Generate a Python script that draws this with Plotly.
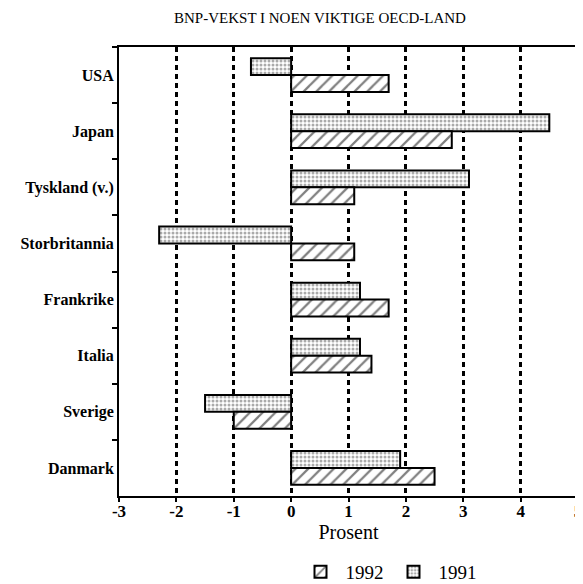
import plotly.graph_objects as go

countries = ["USA", "Japan", "Tyskland (v.)", "Storbritannia", "Frankrike", "Italia", "Sverige", "Danmark"]
vekst_1991 = [-0.7, 4.5, 3.1, -2.3, 1.2, 1.2, -1.5, 1.9]
vekst_1992 = [1.7, 2.8, 1.1, 1.1, 1.7, 1.4, -1.0, 2.5]
x_ticks = [-3, -2, -1, 0, 1, 2, 3, 4, 5]

serif = "Liberation Serif"

fig = go.Figure()
fig.add_trace(go.Bar(
    y=countries, x=vekst_1991, orientation="h", name="1991",
    marker=dict(color="white", line=dict(color="black", width=2),
                pattern=dict(shape=".", fgcolor="#555", bgcolor="white", size=4, solidity=0.45)),
    legendrank=2,
))
fig.add_trace(go.Bar(
    y=countries, x=vekst_1992, orientation="h", name="1992",
    marker=dict(color="white", line=dict(color="black", width=2),
                pattern=dict(shape="/", fgcolor="black", bgcolor="white", size=9, solidity=0.25)),
    legendrank=1,
))

fig.update_layout(
    width=575, height=576,
    margin=dict(l=111, r=5, t=39, b=88),
    paper_bgcolor="white", plot_bgcolor="white",
    barmode="group", bargap=0.4, bargroupgap=0,
    font=dict(family=serif, color="black"),
    title=dict(text="BNP-VEKST I NOEN VIKTIGE OECD-LAND", xref="container", yref="container",
               x=312/575, y=1-10/576, xanchor="center", yanchor="middle",
               font=dict(size=15, family=serif)),
    legend=dict(orientation="h", xref="container", yref="container", x=0.5, y=0.021,
                xanchor="left", yanchor="middle",
                itemwidth=40, font=dict(size=19, family=serif), bgcolor="rgba(0,0,0,0)"),
    showlegend=True,
)
fig.update_xaxes(
    range=[-3, 5], tickvals=x_ticks, ticktext=[str(v) for v in x_ticks],
    showgrid=True, gridcolor="black", gridwidth=2.5, griddash="5px,4px",
    zeroline=False, showline=True, linecolor="black", linewidth=2, mirror=True,
    ticks="outside", ticklen=4, tickwidth=2, tickcolor="black", automargin=False,
    ticklabelstandoff=-5,
    tickfont=dict(size=17, family=serif, weight="bold"),
    title=dict(text="Prosent", font=dict(size=20, family=serif), standoff=0),
)
fig.update_yaxes(
    autorange="reversed", showgrid=False, zeroline=False,
    showline=True, linecolor="black", linewidth=2, mirror=True, automargin=False,
    ticks="outside", tickson="boundaries", ticklen=5, tickwidth=2, tickcolor="black",
    tickfont=dict(size=16, family=serif, weight="bold"),
)

fig.write_html("out.html")
